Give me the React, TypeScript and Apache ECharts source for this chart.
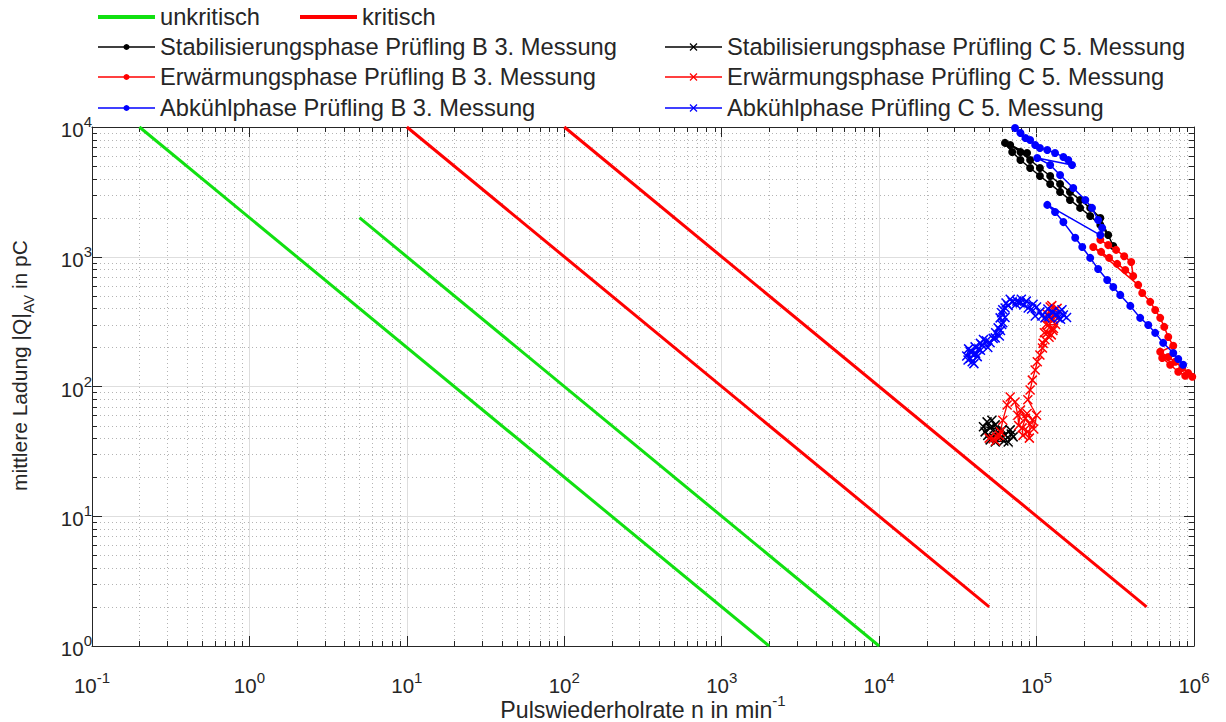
import React, { useEffect, useRef } from "react";
import * as echarts from "echarts";

const FONT = "Arial, 'Liberation Sans', Helvetica, sans-serif";
const TXT = "#262626";
const GREEN = "#11e011";
const RED = "#ff0000";
const BLUE = "#0000ff";
const BLACK = "#000000";

// axis ranges and ticks
const X_MIN = 0.1;
const X_MAX = 1e6;
const Y_MIN = 1;
const Y_MAX = 1e4;
const xTickExponents = [-1, 0, 1, 2, 3, 4, 5, 6];
const yTickExponents = [0, 1, 2, 3, 4];
const minorMultipliers = [2, 3, 4, 5, 6, 7, 8, 9];

// limit lines
const unkritisch1 = [[0.2, 1e4], [2000, 1]];
const unkritisch2 = [[5, 2000], [1e4, 1]];
const kritisch1 = [[10, 1e4], [5e4, 2]];
const kritisch2 = [[100, 1e4], [5e5, 2]];

// Prüfling B, 3. Messung
const stabB = [
  [6.3e4, 7540], [7.0e4, 6410], [7.9e4, 5570], [9.1e4, 4830], [1.05e5, 4190],
  [1.22e5, 3640], [1.41e5, 3160], [1.63e5, 2740], [1.89e5, 2380], [2.19e5, 2060],
  [2.54e5, 1760], [2.85e5, 1470], [3.07e5, 1210], [2.54e5, 1990], [2.19e5, 2380],
  [1.89e5, 2740], [1.63e5, 3160], [1.41e5, 3640], [1.22e5, 4190], [1.05e5, 4830],
  [9.1e4, 5570], [7.9e4, 6410], [6.8e4, 7270], [8.7e4, 6310],
];
const warmB = [
  [2.54e5, 1350], [2.85e5, 1230], [3.2e5, 1130], [3.6e5, 1010], [3.99e5, 912],
  [4.11e5, 711], [3.66e5, 791], [3.25e5, 881], [2.89e5, 980], [2.57e5, 1090],
  [2.29e5, 1190], [4.42e5, 607], [4.69e5, 526], [5.27e5, 449], [5.67e5, 389],
  [6.1e5, 338], [6.47e5, 288], [6.86e5, 241], [7.38e5, 206], [6.1e5, 185],
  [6.86e5, 169], [7.6e5, 155], [8.41e5, 139], [9.18e5, 127], [9.75e5, 119],
  [8.79e5, 121], [7.94e5, 130], [7.06e5, 147], [6.28e5, 166],
];
const coolB = [
  [7.3e4, 9820], [7.9e4, 8990], [8.5e4, 8230], [9.1e4, 7940], [9.8e4, 7270],
  [1.05e5, 6890], [1.17e5, 6650], [1.31e5, 6310], [1.48e5, 5880], [1.59e5, 5570],
  [1.68e5, 5100], [1.01e5, 5770], [1.22e5, 5100], [1.41e5, 4270], [1.71e5, 3390],
  [2.04e5, 2740], [2.25e5, 2380], [2.46e5, 1920], [2.61e5, 1670], [2.54e5, 1470],
  [1.17e5, 2510], [1.31e5, 2210], [1.48e5, 1850], [1.76e5, 1400], [1.95e5, 1190],
  [2.19e5, 980], [2.46e5, 805], [2.81e5, 662], [3.07e5, 585], [3.4e5, 508],
  [3.94e5, 418], [4.55e5, 338], [5.12e5, 298], [5.67e5, 259], [6.37e5, 217],
  [7.38e5, 181], [7.94e5, 163], [8.53e5, 147],
];

// Prüfling C, 5. Messung
const stabC = [
  [4.85e4, 53.4], [5.07e4, 48.0], [4.71e4, 44.7], [5.46e4, 50.6], [5.2e4, 55],
  [5.87e4, 40.2], [6.31e4, 42.4], [6.8e4, 46.3], [7.1e4, 40.9], [6.9e4, 43],
  [6.6e4, 37.4], [6.2e4, 38], [5.46e4, 37.4], [5.07e4, 38.8], [6.04e4, 46.3],
  [4.6e4, 49], [4.9e4, 42.0], [5.6e4, 44.0],
];
const warmC = [
  [5.0e4, 40], [5.3e4, 39.5], [5.5e4, 38], [5.6e4, 41], [5.8e4, 42], [5.9e4, 44.7],
  [6.1e4, 55], [6.5e4, 72], [6.8e4, 83], [7.3e4, 76], [7.6e4, 60], [7.7e4, 50],
  [7.9e4, 66], [8.5e4, 57], [9.1e4, 51], [9.0e4, 40], [8.8e4, 45], [8.2e4, 42],
  [8.1e4, 48], [8.7e4, 62], [9.4e4, 55], [9.6e4, 47], [1.0e5, 60], [8.8e4, 79],
  [9.1e4, 94], [9.4e4, 112], [9.8e4, 134], [1.01e5, 155], [1.05e5, 175],
  [1.09e5, 198], [1.13e5, 229], [1.1e5, 215], [1.2e5, 240], [1.24e5, 250],
  [1.17e5, 259], [1.12e5, 260], [1.27e5, 270], [1.28e5, 280], [1.19e5, 298],
  [1.15e5, 300], [1.32e5, 300], [1.28e5, 330], [1.22e5, 338], [1.3e5, 350],
  [1.26e5, 376], [1.17e5, 360], [1.22e5, 410], [1.25e5, 420], [1.35e5, 400],
  [1.31e5, 389],
];
const coolC = [
  [1.48e5, 356], [1.42e5, 330], [1.37e5, 338], [1.4e5, 375], [1.26e5, 376],
  [1.2e5, 345], [1.13e5, 338], [1.05e5, 376], [9.8e4, 350], [9.3e4, 395],
  [8.85e4, 403], [8.3e4, 425], [7.87e4, 441], [7.4e4, 430], [7.0e4, 449],
  [6.6e4, 420], [6.31e4, 403], [6.0e4, 370], [5.87e4, 338], [6.1e4, 310],
  [5.7e4, 283], [5.5e4, 260], [5.46e4, 237], [5.07e4, 217], [4.8e4, 225],
  [4.51e4, 209], [4.3e4, 195], [4.07e4, 202], [3.9e4, 185], [3.78e4, 185],
  [3.67e4, 160], [3.9e4, 155], [4.2e4, 170], [3.6e4, 172],
  [3.7e4, 195], [3.8e4, 165], [4.0e4, 150], [4.1e4, 180], [4.4e4, 190],
  [4.4e4, 215], [4.6e4, 230], [4.9e4, 200], [5.3e4, 235], [5.8e4, 245],
  [5.9e4, 270], [6.0e4, 300], [6.3e4, 340], [6.1e4, 390], [6.4e4, 440],
  [6.8e4, 470], [7.5e4, 455], [8.0e4, 470], [8.6e4, 455], [9.5e4, 430],
  [1.0e5, 410], [1.08e5, 350], [1.18e5, 395], [1.33e5, 360], [1.45e5, 390],
  [1.55e5, 340],
];

const nameUnkritisch = "unkritisch";
const nameKritisch = "kritisch";
const nameStabB = "Stabilisierungsphase Prüfling B 3. Messung";
const nameWarmB = "Erwärmungsphase Prüfling B 3. Messung";
const nameCoolB = "Abkühlphase Prüfling B 3. Messung";
const nameStabC = "Stabilisierungsphase Prüfling C 5. Messung";
const nameWarmC = "Erwärmungsphase Prüfling C 5. Messung";
const nameCoolC = "Abkühlphase Prüfling C 5. Messung";

const CROSS = "path://M0,0L10,10M10,0L0,10";
const LEGEND_SIZE = 23.7;

function minorValues(exps: number[]) {
  const out: number[] = [];
  for (let i = 0; i < exps.length - 1; i++) {
    for (const m of minorMultipliers) {
      out.push(Number((m * Math.pow(10, exps[i])).toPrecision(3)));
    }
  }
  return out;
}

function tickLabel(v: number, exps: number[]) {
  const e = Math.round(Math.log10(v));
  if (!exps.includes(e)) return "";
  return `{b|10}{s|${e}}`;
}

const tickRich = {
  b: { fontSize: 20.5, fontFamily: FONT, color: TXT, lineHeight: 26, verticalAlign: "bottom" },
  s: { fontSize: 15, fontFamily: FONT, color: TXT, verticalAlign: "top" },
};

function legendGraphic() {
  const items = [
    { name: nameUnkritisch, color: GREEN, kind: "thick", x: 98, y: 17 },
    { name: nameKritisch, color: RED, kind: "thick", x: 300, y: 17 },
    { name: nameStabB, color: BLACK, kind: "dot", x: 98, y: 47 },
    { name: nameWarmB, color: RED, kind: "dot", x: 98, y: 77 },
    { name: nameCoolB, color: BLUE, kind: "dot", x: 98, y: 108 },
    { name: nameStabC, color: BLACK, kind: "cross", x: 665, y: 47 },
    { name: nameWarmC, color: RED, kind: "cross", x: 665, y: 77 },
    { name: nameCoolC, color: BLUE, kind: "cross", x: 665, y: 108 },
  ];
  const els: any[] = [];
  for (const it of items) {
    const len = 57;
    els.push({
      type: "line",
      shape: { x1: it.x, y1: it.y, x2: it.x + len, y2: it.y },
      style: { stroke: it.color, lineWidth: it.kind === "thick" ? 4 : 1.3 },
      silent: true,
    });
    const cx = it.x + len / 2;
    if (it.kind === "dot") {
      els.push({ type: "circle", shape: { cx, cy: it.y, r: 3 }, style: { fill: it.color }, silent: true });
    } else if (it.kind === "cross") {
      els.push({ type: "line", shape: { x1: cx - 3.5, y1: it.y - 3.5, x2: cx + 3.5, y2: it.y + 3.5 }, style: { stroke: it.color, lineWidth: 1.2 }, silent: true });
      els.push({ type: "line", shape: { x1: cx - 3.5, y1: it.y + 3.5, x2: cx + 3.5, y2: it.y - 3.5 }, style: { stroke: it.color, lineWidth: 1.2 }, silent: true });
    }
    els.push({
      type: "text",
      x: it.x + len + 5,
      y: it.y,
      style: { text: it.name, fontSize: LEGEND_SIZE, fontFamily: FONT, fill: TXT, verticalAlign: "middle", align: "left" },
      silent: true,
    });
  }
  return els;
}

export default function App() {
  const ref = useRef<HTMLDivElement>(null);
  useEffect(() => {
    if (!ref.current) return;
    const chart = echarts.init(ref.current, undefined, { renderer: "svg" });

    const xMinor = minorValues(xTickExponents).map((v) => [v, Y_MIN]);
    const yMinor = minorValues(yTickExponents).map((v) => [X_MIN, v]);

    const baseX = {
      type: "log",
      logBase: 10,
      min: X_MIN,
      max: X_MAX,
      splitNumber: 7,
      axisLine: { show: true, lineStyle: { color: TXT, width: 1 } },
      axisTick: { show: true, inside: true, length: 10, lineStyle: { color: TXT } },
      minorTick: { show: false },
    };
    const baseY = {
      type: "log",
      logBase: 10,
      min: Y_MIN,
      max: Y_MAX,
      splitNumber: 4,
      axisLine: { show: true, lineStyle: { color: TXT, width: 1 } },
      axisTick: { show: true, inside: true, length: 10, lineStyle: { color: TXT } },
      minorTick: { show: false },
    };

    const lineSeries = (data: number[][], color: string) => ({
      type: "line",
      data,
      symbol: "none",
      lineStyle: { color, width: 3 },
      z: 3,
      silent: true,
    });
    const dotSeries = (name: string, data: number[][], color: string, z: number) => ({
      type: "line",
      name,
      data,
      symbol: "circle",
      symbolSize: 8,
      showAllSymbol: true,
      itemStyle: { color },
      lineStyle: { color, width: 1.5 },
      z,
      silent: true,
    });
    const crossSeries = (name: string, data: number[][], color: string, z: number) => ({
      type: "line",
      name,
      data,
      symbol: CROSS,
      symbolSize: 9,
      showAllSymbol: true,
      itemStyle: { color: "rgba(0,0,0,0)", borderColor: color, borderWidth: 1.5 },
      lineStyle: { color, width: 1.3 },
      z,
      silent: true,
    });

    chart.setOption({
      animation: false,
      backgroundColor: "#ffffff",
      grid: { left: 92, right: 32, top: 127, bottom: 76, containLabel: false, outerBoundsMode: "none" },
      xAxis: [
        {
          ...baseX,
          position: "bottom",
          splitLine: { show: true, lineStyle: { color: "#dedede", width: 1 } },
          axisLabel: {
            margin: 24,
            formatter: (v: number) => tickLabel(v, xTickExponents),
            rich: tickRich,
          },
          name: "{a|Pulswiederholrate n in min}{s|-1}",
          nameLocation: "middle",
          nameGap: 47,
          nameMoveOverlap: false,
          nameTextStyle: {
            rich: {
              a: { fontSize: 23.2, fontFamily: FONT, color: TXT, lineHeight: 28, verticalAlign: "bottom" },
              s: { fontSize: 15, fontFamily: FONT, color: TXT, verticalAlign: "top" },
            },
          },
        },
        {
          ...baseX,
          position: "top",
          splitLine: { show: false },
          axisLabel: { show: false },
        },
      ],
      yAxis: [
        {
          ...baseY,
          position: "left",
          splitLine: { show: true, lineStyle: { color: "#dedede", width: 1 } },
          axisLabel: {
            margin: 0,
            formatter: (v: number) => tickLabel(v, yTickExponents),
            rich: tickRich,
          },
          name: "{a|mittlere Ladung |Q|}{sub|AV}{a| in pC}",
          nameLocation: "middle",
          nameGap: 56,
          nameMoveOverlap: false,
          nameRotate: 90,
          nameTextStyle: {
            padding: [0, 0, 0, 42],
            rich: {
              a: { fontSize: 21, fontFamily: FONT, color: TXT, lineHeight: 27, verticalAlign: "top" },
              sub: { fontSize: 14.5, fontFamily: FONT, color: TXT, verticalAlign: "bottom" },
            },
          },
        },
        {
          ...baseY,
          position: "right",
          splitLine: { show: false },
          axisLabel: { show: false },
        },
      ],
      graphic: legendGraphic(),
      series: [
        {
          type: "custom",
          data: xMinor,
          encode: { x: 0, y: 1 },
          silent: true,
          clip: false,
          z: 1,
          renderItem: (params: any, api: any) => {
            const cs = params.coordSys;
            const px = Math.round(api.coord([api.value(0), Y_MIN])[0]) + 0.5;
            const top = cs.y;
            const bottom = cs.y + cs.height;
            return {
              type: "group",
              children: [
                { type: "line", shape: { x1: px, y1: top, x2: px, y2: bottom }, style: { stroke: "#b4b4b4", lineWidth: 1, lineDash: [1, 3] } },
                { type: "line", shape: { x1: px, y1: bottom, x2: px, y2: bottom - 5 }, style: { stroke: TXT, lineWidth: 1 } },
                { type: "line", shape: { x1: px, y1: top, x2: px, y2: top + 5 }, style: { stroke: TXT, lineWidth: 1 } },
              ],
            };
          },
        },
        {
          type: "custom",
          data: yMinor,
          encode: { x: 0, y: 1 },
          silent: true,
          clip: false,
          z: 1,
          renderItem: (params: any, api: any) => {
            const cs = params.coordSys;
            const py = Math.round(api.coord([X_MIN, api.value(1)])[1]) + 0.5;
            const left = cs.x;
            const right = cs.x + cs.width;
            return {
              type: "group",
              children: [
                { type: "line", shape: { x1: left, y1: py, x2: right, y2: py }, style: { stroke: "#b4b4b4", lineWidth: 1, lineDash: [1, 3] } },
                { type: "line", shape: { x1: left, y1: py, x2: left + 5, y2: py }, style: { stroke: TXT, lineWidth: 1 } },
                { type: "line", shape: { x1: right, y1: py, x2: right - 5, y2: py }, style: { stroke: TXT, lineWidth: 1 } },
              ],
            };
          },
        },
        lineSeries(unkritisch1, GREEN),
        lineSeries(unkritisch2, GREEN),
        lineSeries(kritisch1, RED),
        lineSeries(kritisch2, RED),
        dotSeries(nameStabB, stabB, BLACK, 4),
        dotSeries(nameWarmB, warmB, RED, 5),
        dotSeries(nameCoolB, coolB, BLUE, 6),
        crossSeries(nameStabC, stabC, BLACK, 7),
        crossSeries(nameWarmC, warmC, RED, 8),
        crossSeries(nameCoolC, coolC, BLUE, 9),
      ],
    });

    return () => chart.dispose();
  }, []);

  return (
    <div
      ref={ref}
      style={{ position: "fixed", left: 0, top: 0, width: 1226, height: 722, background: "#fff" }}
    />
  );
}
